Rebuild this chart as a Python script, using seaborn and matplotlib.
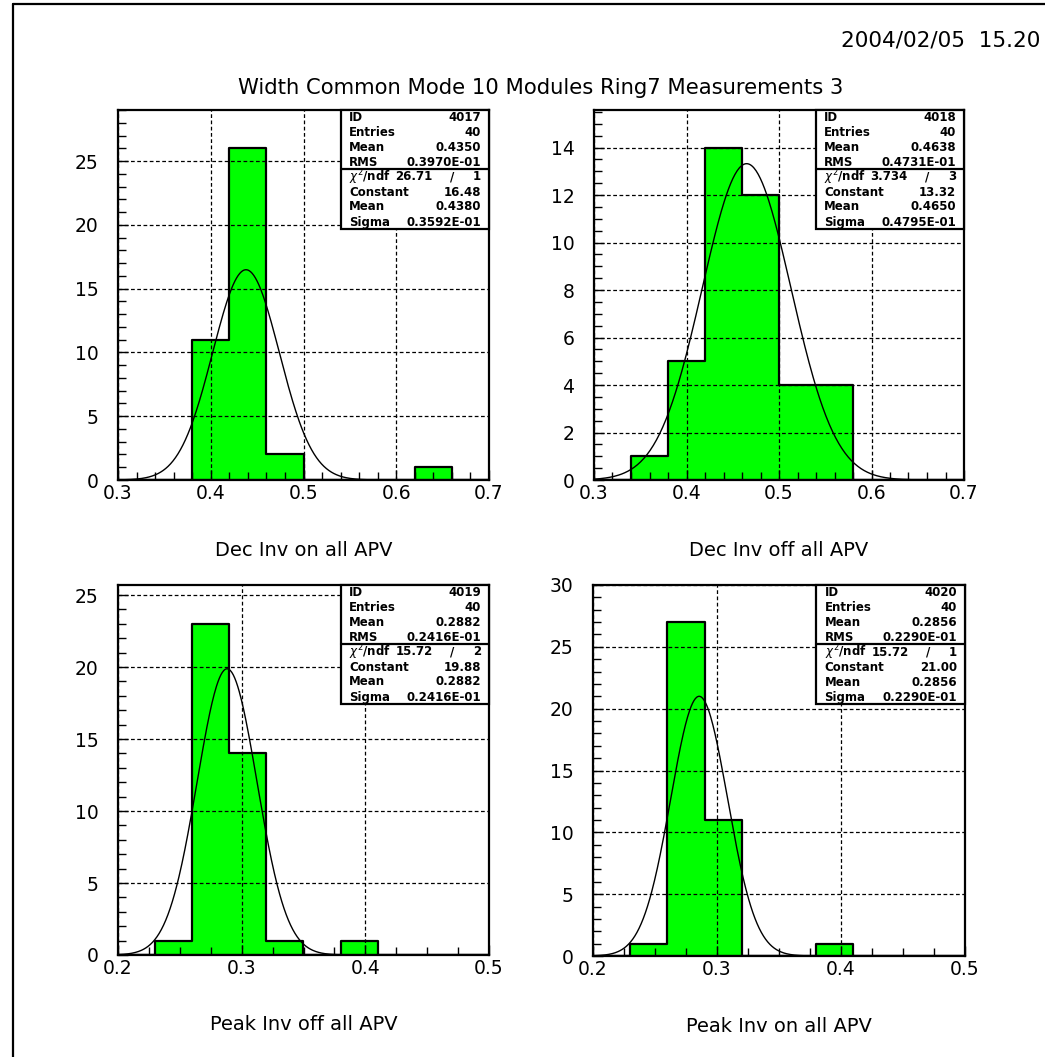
import numpy as np
import pandas as pd
import matplotlib
matplotlib.use("Agg")
import matplotlib.pyplot as plt
from matplotlib.patches import Rectangle
from matplotlib.lines import Line2D
from matplotlib.ticker import MultipleLocator, FuncFormatter
import seaborn as sns

# ---- histogram contents (bin edges + entries per bin) ----
dec_on_edges = [0.30, 0.34, 0.38, 0.42, 0.46, 0.50, 0.54, 0.58, 0.62, 0.66, 0.70]
dec_on_counts = [0, 0, 11, 26, 2, 0, 0, 0, 1, 0]

dec_off_edges = [0.30, 0.34, 0.38, 0.42, 0.46, 0.50, 0.54, 0.58, 0.62, 0.66, 0.70]
dec_off_counts = [0, 1, 5, 14, 12, 4, 4, 0, 0, 0]

peak_off_edges = [0.20, 0.23, 0.26, 0.29, 0.32, 0.35, 0.38, 0.41, 0.44, 0.47, 0.50]
peak_off_counts = [0, 1, 23, 14, 1, 0, 1, 0, 0, 0]

peak_on_edges = [0.20, 0.23, 0.26, 0.29, 0.32, 0.35, 0.38, 0.41, 0.44, 0.47, 0.50]
peak_on_counts = [0, 1, 27, 11, 0, 0, 1, 0, 0, 0]

# ---- gaussian fit parameters (constant, mean, sigma) ----
dec_on_fit = (16.48, 0.4380, 0.03592)
dec_off_fit = (13.32, 0.4650, 0.04795)
peak_off_fit = (19.88, 0.2882, 0.02416)
peak_on_fit = (21.00, 0.2856, 0.02290)

# ---- statistics box entries ----
dec_on_stats = [("ID", "4017"), ("Entries", "40"), ("Mean", "0.4350"), ("RMS", "0.3970E-01")]
dec_on_chi = ("26.71", "1")
dec_off_stats = [("ID", "4018"), ("Entries", "40"), ("Mean", "0.4638"), ("RMS", "0.4731E-01")]
dec_off_chi = ("3.734", "3")
peak_off_stats = [("ID", "4019"), ("Entries", "40"), ("Mean", "0.2882"), ("RMS", "0.2416E-01")]
peak_off_chi = ("15.72", "2")
peak_on_stats = [("ID", "4020"), ("Entries", "40"), ("Mean", "0.2856"), ("RMS", "0.2290E-01")]
peak_on_chi = ("15.72", "1")

panel_titles = ["Dec Inv on all APV", "Dec Inv off all APV",
                "Peak Inv off all APV", "Peak Inv on all APV"]
main_title = "Width Common Mode 10 Modules Ring7 Measurements 3"
date_stamp = "2004/02/05  15.20"

sns.set_style("white")
plt.rcParams["font.family"] = ["DejaVu Sans"]

W, H = 1045, 1057
fig = plt.figure(figsize=(W / 100, H / 100), dpi=100)
fig.patch.set_facecolor("white")


def px_axes(left, top, right, bottom):
    return fig.add_axes([left / W, 1 - bottom / H, (right - left) / W, (bottom - top) / H])


panels = [
    dict(ax=px_axes(118, 110, 489, 480), edges=dec_on_edges, counts=dec_on_counts,
         fit=dec_on_fit, stats=dec_on_stats, chi=dec_on_chi,
         xlim=(0.3, 0.7), xmaj=0.1, xmin=0.02, ymax=29.0, ymaj=5, ymin=1),
    dict(ax=px_axes(594, 110, 964, 480), edges=dec_off_edges, counts=dec_off_counts,
         fit=dec_off_fit, stats=dec_off_stats, chi=dec_off_chi,
         xlim=(0.3, 0.7), xmaj=0.1, xmin=0.02, ymax=15.58, ymaj=2, ymin=0.5),
    dict(ax=px_axes(118, 585, 489, 955), edges=peak_off_edges, counts=peak_off_counts,
         fit=peak_off_fit, stats=peak_off_stats, chi=peak_off_chi,
         xlim=(0.2, 0.5), xmaj=0.1, xmin=0.025, ymax=25.7, ymaj=5, ymin=1),
    dict(ax=px_axes(593, 585, 965, 956), edges=peak_on_edges, counts=peak_on_counts,
         fit=peak_on_fit, stats=peak_on_stats, chi=peak_on_chi,
         xlim=(0.2, 0.5), xmaj=0.1, xmin=0.025, ymax=30.0, ymaj=5, ymin=1),
]

stat_font = dict(family=["DejaVu Sans Condensed", "DejaVu Sans"], fontsize=8.5,
                 fontweight="bold", color="black")
row_y = [0.980, 0.940, 0.899, 0.859, 0.819, 0.778, 0.738, 0.697]

for p, title in zip(panels, panel_titles):
    ax = p["ax"]
    edges = list(p["edges"])
    centers = [(a + b) / 2 for a, b in zip(edges[:-1], edges[1:])]
    df = pd.DataFrame({"x": centers, "n": p["counts"]})
    sns.histplot(data=df, x="x", weights="n", bins=edges, element="step", fill=True,
                 color="#00ff00", alpha=1.0, edgecolor="black", linewidth=1.6, ax=ax)

    # gaussian fit curve
    c, m, s = p["fit"]
    lo = max(p["xlim"][0], m - 3.7 * s)
    hi = min(p["xlim"][1], m + 3.7 * s)
    xs = np.linspace(lo, hi, 300)
    curve = pd.DataFrame({"x": xs, "y": c * np.exp(-0.5 * ((xs - m) / s) ** 2)})
    sns.lineplot(data=curve, x="x", y="y", color="black", linewidth=1.0, ax=ax, zorder=3)

    ax.set_xlim(*p["xlim"])
    ax.set_ylim(0, p["ymax"])
    ax.set_xlabel("")
    ax.set_ylabel("")
    ax.xaxis.set_major_locator(MultipleLocator(p["xmaj"]))
    ax.xaxis.set_minor_locator(MultipleLocator(p["xmin"]))
    ax.yaxis.set_major_locator(MultipleLocator(p["ymaj"]))
    ax.yaxis.set_minor_locator(MultipleLocator(p["ymin"]))
    ax.xaxis.set_major_formatter(FuncFormatter(lambda v, _: f"{v:.1f}"))
    ax.yaxis.set_major_formatter(FuncFormatter(lambda v, _: f"{v:g}"))
    ax.tick_params(axis="both", which="both", direction="in", bottom=True, left=True,
                   top=False, right=False, colors="black")
    ax.tick_params(axis="both", which="major", length=7, width=1.0, labelsize=13.5)
    ax.tick_params(axis="both", which="minor", length=5.5, width=1.0)
    ax.tick_params(axis="x", which="major", pad=3)
    ax.tick_params(axis="y", which="major", pad=14)
    for sp in ax.spines.values():
        sp.set_visible(True)
        sp.set_color("black")
        sp.set_linewidth(1.6)
    ax.set_facecolor("white")
    ax.set_axisbelow(False)
    ax.grid(True, which="major", color="black", linestyle=(0, (3, 2)), linewidth=0.9)
    for gl in ax.get_xgridlines() + ax.get_ygridlines():
        gl.set_zorder(4)

    # statistics box
    ax.add_patch(Rectangle((0.6, 0.678), 0.4, 0.322, transform=ax.transAxes,
                           facecolor="white", edgecolor="black", linewidth=1.6,
                           zorder=3.5, clip_on=False))
    ax.add_line(Line2D([0.6, 1.0], [0.840, 0.840], transform=ax.transAxes,
                       color="black", linewidth=1.6, zorder=3.6))
    lx, rx = 0.6 + 0.4 * 0.056, 0.6 + 0.4 * 0.945
    for (lab, val), y in zip(p["stats"], row_y[:4]):
        ax.text(lx, y, lab, transform=ax.transAxes, ha="left", va="center", zorder=3.7, **stat_font)
        ax.text(rx, y, val, transform=ax.transAxes, ha="right", va="center", zorder=3.7, **stat_font)
    chi, ndf = p["chi"]
    ax.text(lx, row_y[4], r"$\chi^2$/ndf", transform=ax.transAxes, ha="left", va="center",
            zorder=3.7, **stat_font)
    ax.text(0.6 + 0.4 * 0.62, row_y[4], chi, transform=ax.transAxes, ha="right", va="center",
            zorder=3.7, **stat_font)
    ax.text(0.6 + 0.4 * 0.75, row_y[4], "/", transform=ax.transAxes, ha="center", va="center",
            zorder=3.7, **stat_font)
    ax.text(rx, row_y[4], ndf, transform=ax.transAxes, ha="right", va="center",
            zorder=3.7, **stat_font)
    fit_rows = [("Constant", f"{c:.2f}"), ("Mean", f"{m:.4f}"),
                ("Sigma", f"{s * 10:.4f}E-01")]
    for (lab, val), y in zip(fit_rows, row_y[5:]):
        ax.text(lx, y, lab, transform=ax.transAxes, ha="left", va="center", zorder=3.7, **stat_font)
        ax.text(rx, y, val, transform=ax.transAxes, ha="right", va="center", zorder=3.7, **stat_font)

    # histogram title below the axis
    pos = ax.get_position()
    ty = pos.y0 - 70 / H
    fig.text(pos.x0 + pos.width / 2, ty, title, ha="center", va="center", fontsize=14,
             color="black")

fig.text(541 / W, 1 - 88 / H, main_title, ha="center", va="center", fontsize=15.2, color="black")
fig.text(1040 / W, 1 - 40 / H, date_stamp, ha="right", va="center", fontsize=15.5, color="black")

# page frame
fig.add_artist(Line2D([13 / W, 13 / W], [0, 1 - 4 / H], transform=fig.transFigure,
                      color="black", linewidth=1.6))
fig.add_artist(Line2D([13 / W, 1.0], [1 - 4 / H, 1 - 4 / H], transform=fig.transFigure,
                      color="black", linewidth=1.6))

fig.savefig("out.png", dpi=100, facecolor="white")
